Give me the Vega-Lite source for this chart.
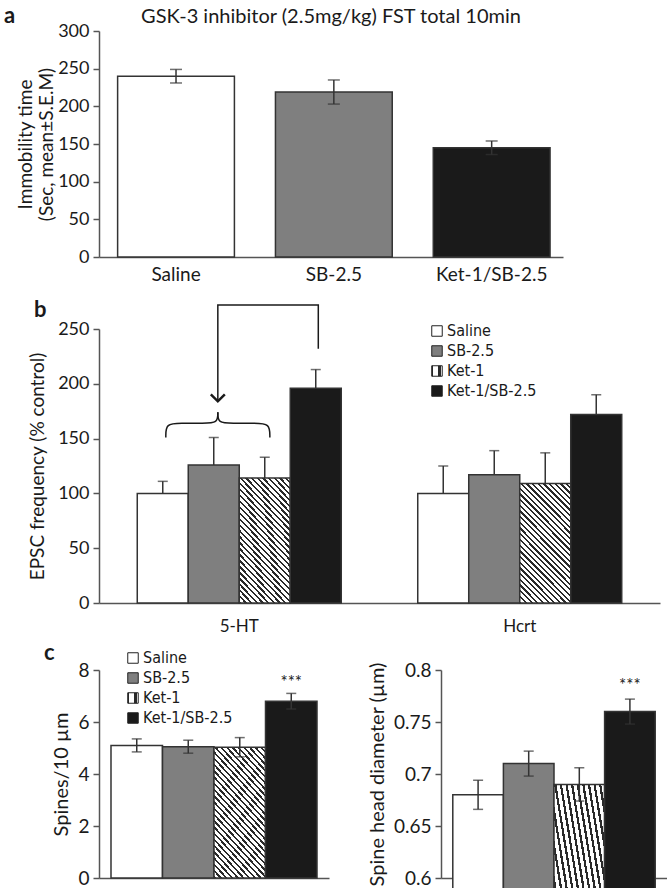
{
  "$schema": "https://vega.github.io/schema/vega-lite/v6.json",
  "padding": {"left": 4, "top": 5, "right": 0, "bottom": 0},
  "params": [
    {"name": "hatch", "value": {"gradient": "linear", "x1": 1, "y1": 0, "x2": 0.481, "y2": 1.207, "stops": [
      {"offset": 0, "color": "#ffffff"}, {"offset": 0.02, "color": "#ffffff"}, {"offset": 0.02, "color": "#2a2a2a"}, {"offset": 0.0333, "color": "#2a2a2a"},
      {"offset": 0.0333, "color": "#ffffff"}, {"offset": 0.0533, "color": "#ffffff"}, {"offset": 0.0533, "color": "#2a2a2a"}, {"offset": 0.0667, "color": "#2a2a2a"},
      {"offset": 0.0667, "color": "#ffffff"}, {"offset": 0.0867, "color": "#ffffff"}, {"offset": 0.0867, "color": "#2a2a2a"}, {"offset": 0.1, "color": "#2a2a2a"},
      {"offset": 0.1, "color": "#ffffff"}, {"offset": 0.12, "color": "#ffffff"}, {"offset": 0.12, "color": "#2a2a2a"}, {"offset": 0.1333, "color": "#2a2a2a"},
      {"offset": 0.1333, "color": "#ffffff"}, {"offset": 0.1533, "color": "#ffffff"}, {"offset": 0.1533, "color": "#2a2a2a"}, {"offset": 0.1667, "color": "#2a2a2a"},
      {"offset": 0.1667, "color": "#ffffff"}, {"offset": 0.1867, "color": "#ffffff"}, {"offset": 0.1867, "color": "#2a2a2a"}, {"offset": 0.2, "color": "#2a2a2a"},
      {"offset": 0.2, "color": "#ffffff"}, {"offset": 0.22, "color": "#ffffff"}, {"offset": 0.22, "color": "#2a2a2a"}, {"offset": 0.2333, "color": "#2a2a2a"},
      {"offset": 0.2333, "color": "#ffffff"}, {"offset": 0.2533, "color": "#ffffff"}, {"offset": 0.2533, "color": "#2a2a2a"}, {"offset": 0.2667, "color": "#2a2a2a"},
      {"offset": 0.2667, "color": "#ffffff"}, {"offset": 0.2867, "color": "#ffffff"}, {"offset": 0.2867, "color": "#2a2a2a"}, {"offset": 0.3, "color": "#2a2a2a"},
      {"offset": 0.3, "color": "#ffffff"}, {"offset": 0.32, "color": "#ffffff"}, {"offset": 0.32, "color": "#2a2a2a"}, {"offset": 0.3333, "color": "#2a2a2a"},
      {"offset": 0.3333, "color": "#ffffff"}, {"offset": 0.3533, "color": "#ffffff"}, {"offset": 0.3533, "color": "#2a2a2a"}, {"offset": 0.3667, "color": "#2a2a2a"},
      {"offset": 0.3667, "color": "#ffffff"}, {"offset": 0.3867, "color": "#ffffff"}, {"offset": 0.3867, "color": "#2a2a2a"}, {"offset": 0.4, "color": "#2a2a2a"},
      {"offset": 0.4, "color": "#ffffff"}, {"offset": 0.42, "color": "#ffffff"}, {"offset": 0.42, "color": "#2a2a2a"}, {"offset": 0.4333, "color": "#2a2a2a"},
      {"offset": 0.4333, "color": "#ffffff"}, {"offset": 0.4533, "color": "#ffffff"}, {"offset": 0.4533, "color": "#2a2a2a"}, {"offset": 0.4667, "color": "#2a2a2a"},
      {"offset": 0.4667, "color": "#ffffff"}, {"offset": 0.4867, "color": "#ffffff"}, {"offset": 0.4867, "color": "#2a2a2a"}, {"offset": 0.5, "color": "#2a2a2a"},
      {"offset": 0.5, "color": "#ffffff"}, {"offset": 0.52, "color": "#ffffff"}, {"offset": 0.52, "color": "#2a2a2a"}, {"offset": 0.5333, "color": "#2a2a2a"},
      {"offset": 0.5333, "color": "#ffffff"}, {"offset": 0.5533, "color": "#ffffff"}, {"offset": 0.5533, "color": "#2a2a2a"}, {"offset": 0.5667, "color": "#2a2a2a"},
      {"offset": 0.5667, "color": "#ffffff"}, {"offset": 0.5867, "color": "#ffffff"}, {"offset": 0.5867, "color": "#2a2a2a"}, {"offset": 0.6, "color": "#2a2a2a"},
      {"offset": 0.6, "color": "#ffffff"}, {"offset": 0.62, "color": "#ffffff"}, {"offset": 0.62, "color": "#2a2a2a"}, {"offset": 0.6333, "color": "#2a2a2a"},
      {"offset": 0.6333, "color": "#ffffff"}, {"offset": 0.6533, "color": "#ffffff"}, {"offset": 0.6533, "color": "#2a2a2a"}, {"offset": 0.6667, "color": "#2a2a2a"},
      {"offset": 0.6667, "color": "#ffffff"}, {"offset": 0.6867, "color": "#ffffff"}, {"offset": 0.6867, "color": "#2a2a2a"}, {"offset": 0.7, "color": "#2a2a2a"},
      {"offset": 0.7, "color": "#ffffff"}, {"offset": 0.72, "color": "#ffffff"}, {"offset": 0.72, "color": "#2a2a2a"}, {"offset": 0.7333, "color": "#2a2a2a"},
      {"offset": 0.7333, "color": "#ffffff"}, {"offset": 0.7533, "color": "#ffffff"}, {"offset": 0.7533, "color": "#2a2a2a"}, {"offset": 0.7667, "color": "#2a2a2a"},
      {"offset": 0.7667, "color": "#ffffff"}, {"offset": 0.7867, "color": "#ffffff"}, {"offset": 0.7867, "color": "#2a2a2a"}, {"offset": 0.8, "color": "#2a2a2a"},
      {"offset": 0.8, "color": "#ffffff"}, {"offset": 0.82, "color": "#ffffff"}, {"offset": 0.82, "color": "#2a2a2a"}, {"offset": 0.8333, "color": "#2a2a2a"},
      {"offset": 0.8333, "color": "#ffffff"}, {"offset": 0.8533, "color": "#ffffff"}, {"offset": 0.8533, "color": "#2a2a2a"}, {"offset": 0.8667, "color": "#2a2a2a"},
      {"offset": 0.8667, "color": "#ffffff"}, {"offset": 0.8867, "color": "#ffffff"}, {"offset": 0.8867, "color": "#2a2a2a"}, {"offset": 0.9, "color": "#2a2a2a"},
      {"offset": 0.9, "color": "#ffffff"}, {"offset": 0.92, "color": "#ffffff"}, {"offset": 0.92, "color": "#2a2a2a"}, {"offset": 0.9333, "color": "#2a2a2a"},
      {"offset": 0.9333, "color": "#ffffff"}, {"offset": 0.9533, "color": "#ffffff"}, {"offset": 0.9533, "color": "#2a2a2a"}, {"offset": 0.9667, "color": "#2a2a2a"},
      {"offset": 0.9667, "color": "#ffffff"}, {"offset": 0.9867, "color": "#ffffff"}, {"offset": 0.9867, "color": "#2a2a2a"}, {"offset": 1, "color": "#2a2a2a"}
    ]}}
  ],
  "title": {"text": "a", "anchor": "start", "frame": "group", "fontSize": 22, "fontWeight": "bold", "dx": -95, "dy": 25},
  "spacing": 72,
  "bounds": "flush",
  "resolve": {"scale": {"fill": "independent"}, "legend": {"fill": "independent"}},
  "vconcat": [
    {
      "width": 464,
      "height": 226,
      "title": {"text": "GSK-3 inhibitor (2.5mg/kg) FST total 10min", "fontSize": 20, "fontWeight": "normal", "anchor": "middle", "offset": -5},
      "data": {"values": [
        {"group": "Saline", "mean": 240, "lo": 231, "hi": 249},
        {"group": "SB-2.5", "mean": 219, "lo": 203, "hi": 235},
        {"group": "Ket-1/SB-2.5", "mean": 145, "lo": 136, "hi": 154}
      ]},
      "encoding": {
        "x": {"field": "group", "type": "nominal", "sort": null, "title": null,
          "scale": {"paddingInner": 0.26, "paddingOuter": 0.1, "align": 0.59},
          "axis": {"labelFontSize": 19, "labelPadding": 8, "ticks": false, "labelAngle": 0}}
      },
      "layer": [
        {"mark": {"type": "bar", "stroke": "#333333", "strokeWidth": 1.5},
          "encoding": {
            "y": {"field": "mean", "type": "quantitative", "scale": {"domain": [0, 300]},
              "title": ["Immobility time", "(Sec, mean±S.E.M)"],
              "axis": {"values": [0, 50, 100, 150, 200, 250, 300], "titlePadding": 1, "titleLineHeight": 21, "titleFontSize": 19, "labelFontSize": 18}},
            "fill": {"field": "group", "type": "nominal", "sort": null,
              "scale": {"domain": ["Saline", "SB-2.5", "Ket-1/SB-2.5"], "range": ["#ffffff", "#7f7f7f", "#1a1a1a"]}, "legend": null}
          }},
        {"mark": {"type": "rule", "color": "#333333", "strokeWidth": 1.5},
          "encoding": {"y": {"field": "lo", "type": "quantitative", "title": ["Immobility time", "(Sec, mean±S.E.M)"],
            "axis": {"values": [0, 50, 100, 150, 200, 250, 300], "titlePadding": 1, "titleLineHeight": 21, "titleFontSize": 19, "labelFontSize": 18}}, "y2": {"field": "hi"}}},
        {"mark": {"type": "tick", "color": "#333333", "thickness": 1.5, "size": 12},
          "encoding": {"y": {"field": "hi", "type": "quantitative", "title": ["Immobility time", "(Sec, mean±S.E.M)"],
            "axis": {"values": [0, 50, 100, 150, 200, 250, 300], "titlePadding": 1, "titleLineHeight": 21, "titleFontSize": 19, "labelFontSize": 18}}}},
        {"mark": {"type": "tick", "color": "#333333", "thickness": 1.5, "size": 12},
          "encoding": {"y": {"field": "lo", "type": "quantitative", "title": ["Immobility time", "(Sec, mean±S.E.M)"],
            "axis": {"values": [0, 50, 100, 150, 200, 250, 300], "titlePadding": 1, "titleLineHeight": 21, "titleFontSize": 19, "labelFontSize": 18}}}}
      ]
    },
    {
      "spacing": 67,
      "bounds": "flush",
      "resolve": {"scale": {"fill": "independent"}, "legend": {"fill": "independent"}},
      "vconcat": [
        {
          "width": 561,
          "height": 274,
          "title": {"text": "b", "anchor": "start", "frame": "group", "fontSize": 22, "fontWeight": "bold", "dx": -65, "dy": 24},
          "resolve": {"scale": {"x": "independent"}},
          "layer": [
            {
              "data": {"values": [
                {"group": "5-HT", "series": "Saline", "mean": 100, "hi": 111},
                {"group": "5-HT", "series": "SB-2.5", "mean": 126, "hi": 151},
                {"group": "5-HT", "series": "Ket-1", "mean": 114, "hi": 133},
                {"group": "5-HT", "series": "Ket-1/SB-2.5", "mean": 196, "hi": 213},
                {"group": "Hcrt", "series": "Saline", "mean": 100, "hi": 125},
                {"group": "Hcrt", "series": "SB-2.5", "mean": 117, "hi": 139},
                {"group": "Hcrt", "series": "Ket-1", "mean": 109, "hi": 137},
                {"group": "Hcrt", "series": "Ket-1/SB-2.5", "mean": 172, "hi": 190}
              ]},
              "encoding": {
                "x": {"field": "group", "type": "nominal", "sort": null, "title": null,
                  "scale": {"paddingInner": 0.2727, "paddingOuter": 0.1364},
                  "axis": {"labelFontSize": 17, "labelPadding": 15, "ticks": false, "labelAngle": 0}},
                "xOffset": {"field": "series", "type": "nominal", "sort": null, "scale": {"paddingInner": 0, "paddingOuter": 0}}
              },
              "layer": [
                {"mark": {"type": "bar", "stroke": "#333333", "strokeWidth": 1.5},
                  "encoding": {
                    "y": {"field": "mean", "type": "quantitative", "scale": {"domain": [0, 250]},
                      "title": "EPSC frequency (% control)",
                      "axis": {"values": [0, 50, 100, 150, 200, 250], "titlePadding": 10, "titleFontSize": 19, "labelFontSize": 18}},
                    "fill": {"field": "series", "type": "nominal", "sort": null,
                      "scale": {"domain": ["Saline", "SB-2.5", "Ket-1", "Ket-1/SB-2.5"], "range": ["#ffffff", "#7f7f7f", {"expr": "hatch"}, "#1a1a1a"]},
                      "legend": {"title": null, "orient": "none", "legendX": 330, "legendY": -6}}
                  }},
                {"mark": {"type": "rule", "color": "#333333", "strokeWidth": 1.5},
                  "encoding": {"y": {"field": "mean", "type": "quantitative", "title": "EPSC frequency (% control)", "scale": {"domain": [0, 250]},
                    "axis": {"values": [0, 50, 100, 150, 200, 250], "titlePadding": 10, "titleFontSize": 19, "labelFontSize": 18}}, "y2": {"field": "hi"}}},
                {"mark": {"type": "tick", "color": "#333333", "thickness": 1.5, "size": 10},
                  "encoding": {"y": {"field": "hi", "type": "quantitative", "title": "EPSC frequency (% control)", "scale": {"domain": [0, 250]},
                    "axis": {"values": [0, 50, 100, 150, 200, 250], "titlePadding": 10, "titleFontSize": 19, "labelFontSize": 18}}}}
              ]
            },
            {
              "data": {"values": [
                {"ax": 4.3, "ay": 232, "o": 1},
                {"ax": 4.3, "ay": 272, "o": 2},
                {"ax": 2.33, "ay": 272, "o": 3},
                {"ax": 2.33, "ay": 184, "o": 4}
              ]},
              "mark": {"type": "line", "stroke": "#1a1a1a", "strokeWidth": 1.5},
              "encoding": {
                "x": {"field": "ax", "type": "quantitative", "scale": {"domain": [0, 11], "nice": false, "zero": false}, "axis": null},
                "y": {"field": "ay", "type": "quantitative", "scale": {"domain": [0, 250]}, "title": "EPSC frequency (% control)",
                  "axis": {"values": [0, 50, 100, 150, 200, 250], "titlePadding": 10, "titleFontSize": 19, "labelFontSize": 18}},
                "order": {"field": "o", "type": "quantitative"}
              }
            },
            {
              "data": {"values": [
                {"side": "L", "ax": 1.31, "ay": 151, "o": 1},
                {"side": "L", "ax": 1.31, "ay": 164, "o": 2},
                {"side": "L", "ax": 1.6, "ay": 164, "o": 3},
                {"side": "L", "ax": 2.05, "ay": 164, "o": 4},
                {"side": "L", "ax": 2.33, "ay": 164, "o": 5},
                {"side": "L", "ax": 2.33, "ay": 174, "o": 6},
                {"side": "R", "ax": 3.35, "ay": 151, "o": 1},
                {"side": "R", "ax": 3.35, "ay": 164, "o": 2},
                {"side": "R", "ax": 3.06, "ay": 164, "o": 3},
                {"side": "R", "ax": 2.61, "ay": 164, "o": 4},
                {"side": "R", "ax": 2.33, "ay": 164, "o": 5},
                {"side": "R", "ax": 2.33, "ay": 174, "o": 6}
              ]},
              "mark": {"type": "line", "interpolate": "basis", "stroke": "#1a1a1a", "strokeWidth": 1.5},
              "encoding": {
                "x": {"field": "ax", "type": "quantitative", "scale": {"domain": [0, 11], "nice": false, "zero": false}, "axis": null},
                "y": {"field": "ay", "type": "quantitative", "scale": {"domain": [0, 250]}, "title": "EPSC frequency (% control)",
                  "axis": {"values": [0, 50, 100, 150, 200, 250], "titlePadding": 10, "titleFontSize": 19, "labelFontSize": 18}},
                "detail": {"field": "side", "type": "nominal"},
                "order": {"field": "o", "type": "quantitative"}
              }
            },
            {
              "data": {"values": [{"ax": 2.33, "ay": 184}]},
              "mark": {"type": "point", "shape": "M-1,-1L0,0L1,-1", "size": 196, "filled": false, "stroke": "#1a1a1a", "strokeWidth": 2.5, "opacity": 1},
              "encoding": {
                "x": {"field": "ax", "type": "quantitative", "scale": {"domain": [0, 11], "nice": false, "zero": false}, "axis": null},
                "y": {"field": "ay", "type": "quantitative", "scale": {"domain": [0, 250]}, "title": "EPSC frequency (% control)",
                  "axis": {"values": [0, 50, 100, 150, 200, 250], "titlePadding": 10, "titleFontSize": 19, "labelFontSize": 18}}
              }
            }
          ]
        },
        {
          "spacing": 112,
          "bounds": "flush",
          "resolve": {"scale": {"fill": "independent"}, "legend": {"fill": "independent"}},
          "hconcat": [
            {
              "width": 230,
              "height": 208,
              "title": {"text": "c", "anchor": "start", "frame": "group", "fontSize": 22, "fontWeight": "bold", "dx": -55, "dy": 19},
              "encoding": {
                "x": {"field": "series", "type": "nominal", "sort": null, "title": null,
                  "scale": {"domain": ["Saline", "SB-2.5", "Ket-1", "Ket-1/SB-2.5"], "paddingInner": 0, "paddingOuter": 0.233},
                  "axis": {"labels": false, "ticks": false}}
              },
              "layer": [
                {
                  "data": {"values": [
                    {"series": "Saline", "mean": 5.1, "lo": 4.85, "hi": 5.35},
                    {"series": "SB-2.5", "mean": 5.05, "lo": 4.8, "hi": 5.3},
                    {"series": "Ket-1", "mean": 5.03, "lo": 4.66, "hi": 5.4},
                    {"series": "Ket-1/SB-2.5", "mean": 6.8, "lo": 6.5, "hi": 7.1}
                  ]},
                  "layer": [
                    {"mark": {"type": "bar", "stroke": "#333333", "strokeWidth": 1.5},
                      "encoding": {
                        "y": {"field": "mean", "type": "quantitative", "scale": {"domain": [0, 8]},
                          "title": "Spines/10 µm",
                          "axis": {"values": [0, 2, 4, 6, 8], "titlePadding": 6, "labelFontSize": 19, "titleFontSize": 20}},
                        "fill": {"field": "series", "type": "nominal", "sort": null,
                          "scale": {"domain": ["Saline", "SB-2.5", "Ket-1", "Ket-1/SB-2.5"], "range": ["#ffffff", "#7f7f7f", {"expr": "hatch"}, "#1a1a1a"]},
                          "legend": {"title": null, "orient": "none", "legendX": 26, "legendY": -20}}
                      }},
                    {"mark": {"type": "rule", "color": "#333333", "strokeWidth": 1.5},
                      "encoding": {"y": {"field": "lo", "type": "quantitative", "title": "Spines/10 µm",
                        "axis": {"values": [0, 2, 4, 6, 8], "titlePadding": 6, "labelFontSize": 19, "titleFontSize": 20}}, "y2": {"field": "hi"}}},
                    {"mark": {"type": "tick", "color": "#333333", "thickness": 1.5, "size": 10},
                      "encoding": {"y": {"field": "hi", "type": "quantitative", "title": "Spines/10 µm",
                        "axis": {"values": [0, 2, 4, 6, 8], "titlePadding": 6, "labelFontSize": 19, "titleFontSize": 20}}}},
                    {"mark": {"type": "tick", "color": "#333333", "thickness": 1.5, "size": 10},
                      "encoding": {"y": {"field": "lo", "type": "quantitative", "title": "Spines/10 µm",
                        "axis": {"values": [0, 2, 4, 6, 8], "titlePadding": 6, "labelFontSize": 19, "titleFontSize": 20}}}}
                  ]
                },
                {
                  "data": {"values": [{"series": "Ket-1/SB-2.5", "sy": 7.5, "star": "***"}]},
                  "mark": {"type": "text", "fontSize": 17, "baseline": "middle", "color": "#1a1a1a"},
                  "encoding": {
                    "y": {"field": "sy", "type": "quantitative", "title": "Spines/10 µm",
                      "axis": {"values": [0, 2, 4, 6, 8], "titlePadding": 6, "labelFontSize": 19, "titleFontSize": 20}},
                    "text": {"field": "star"}
                  }
                }
              ]
            },
            {
              "width": 226,
              "height": 208,
              "encoding": {
                "x": {"field": "series", "type": "nominal", "sort": null, "title": null,
                  "scale": {"domain": ["Saline", "SB-2.5", "Ket-1", "Ket-1/SB-2.5"], "paddingInner": 0, "paddingOuter": 0.233},
                  "axis": {"labels": false, "ticks": false}}
              },
              "layer": [
                {
                  "data": {"values": [
                    {"series": "Saline", "mean": 0.68, "lo": 0.666, "hi": 0.694},
                    {"series": "SB-2.5", "mean": 0.71, "lo": 0.698, "hi": 0.722},
                    {"series": "Ket-1", "mean": 0.69, "lo": 0.674, "hi": 0.706},
                    {"series": "Ket-1/SB-2.5", "mean": 0.76, "lo": 0.748, "hi": 0.772}
                  ]},
                  "layer": [
                    {"mark": {"type": "bar", "stroke": "#333333", "strokeWidth": 1.5},
                      "encoding": {
                        "y": {"field": "mean", "type": "quantitative", "scale": {"domain": [0.6, 0.8], "zero": false, "nice": false},
                          "title": "Spine head diameter (µm)",
                          "axis": {"values": [0.6, 0.65, 0.7, 0.75, 0.8], "format": "~g", "titlePadding": 6, "labelFontSize": 19, "titleFontSize": 20}},
                        "fill": {"field": "series", "type": "nominal", "sort": null,
                          "scale": {"domain": ["Saline", "SB-2.5", "Ket-1", "Ket-1/SB-2.5"], "range": ["#ffffff", "#7f7f7f", {"expr": "hatch"}, "#1a1a1a"]},
                          "legend": null}
                      }},
                    {"mark": {"type": "rule", "color": "#333333", "strokeWidth": 1.5},
                      "encoding": {"y": {"field": "lo", "type": "quantitative", "title": "Spine head diameter (µm)",
                        "axis": {"values": [0.6, 0.65, 0.7, 0.75, 0.8], "format": "~g", "titlePadding": 6, "labelFontSize": 19, "titleFontSize": 20}}, "y2": {"field": "hi"}}},
                    {"mark": {"type": "tick", "color": "#333333", "thickness": 1.5, "size": 10},
                      "encoding": {"y": {"field": "hi", "type": "quantitative", "title": "Spine head diameter (µm)",
                        "axis": {"values": [0.6, 0.65, 0.7, 0.75, 0.8], "format": "~g", "titlePadding": 6, "labelFontSize": 19, "titleFontSize": 20}}}},
                    {"mark": {"type": "tick", "color": "#333333", "thickness": 1.5, "size": 10},
                      "encoding": {"y": {"field": "lo", "type": "quantitative", "title": "Spine head diameter (µm)",
                        "axis": {"values": [0.6, 0.65, 0.7, 0.75, 0.8], "format": "~g", "titlePadding": 6, "labelFontSize": 19, "titleFontSize": 20}}}}
                  ]
                },
                {
                  "data": {"values": [{"series": "Ket-1/SB-2.5", "sy": 0.785, "star": "***"}]},
                  "mark": {"type": "text", "fontSize": 17, "baseline": "middle", "color": "#1a1a1a"},
                  "encoding": {
                    "y": {"field": "sy", "type": "quantitative", "title": "Spine head diameter (µm)",
                      "axis": {"values": [0.6, 0.65, 0.7, 0.75, 0.8], "format": "~g", "titlePadding": 6, "labelFontSize": 19, "titleFontSize": 20}},
                    "text": {"field": "star"}
                  }
                }
              ]
            }
          ]
        }
      ]
    }
  ],
  "config": {
    "view": {"stroke": null},
    "font": "Lato",
    "title": {"font": "Lato", "color": "#1a1a1a"},
    "axis": {
      "domainColor": "#555555", "domainWidth": 1.5,
      "tickColor": "#555555", "tickWidth": 1.5, "tickSize": 6,
      "labelFont": "Lato", "labelFontSize": 17, "labelColor": "#1a1a1a", "labelPadding": 4,
      "titleFont": "Lato", "titleFontSize": 17, "titleFontWeight": "normal", "titleColor": "#1a1a1a",
      "grid": false
    },
    "legend": {
      "symbolType": "square", "symbolSize": 110, "symbolStrokeColor": "#222222", "symbolStrokeWidth": 1,
      "labelFont": "Liberation Sans Narrow, DejaVu Sans Condensed, Roboto Condensed, Lato",
      "labelFontSize": 16, "labelColor": "#1a1a1a", "rowPadding": 4, "labelOffset": 2, "padding": 0
    }
  }
}
